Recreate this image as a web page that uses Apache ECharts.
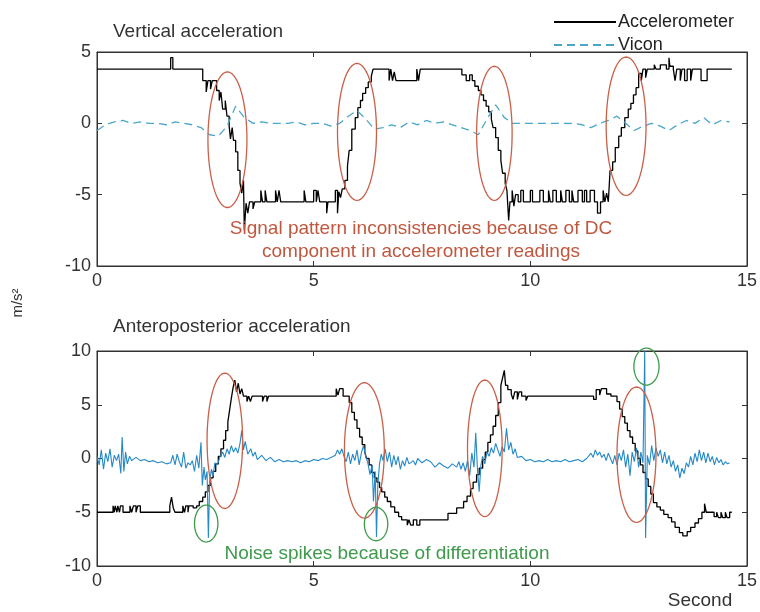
<!DOCTYPE html>
<html>
<head>
<meta charset="utf-8">
<title>Vertical and anteroposterior acceleration</title>
<script src="https://cdn.jsdelivr.net/npm/echarts@6.0.0/dist/echarts.min.js"></script>
<style>
  html, body { margin: 0; padding: 0; background: #fff; }
  #chart { width: 760px; height: 612px; }
</style>
</head>
<body>
<div id="chart"></div>
<script>
// x ticks (seconds) and y ticks of the two panels
var xTicks = [0, 5, 10, 15];
var yTicksTop = [-10, -5, 0, 5];
var yTicksBottom = [-10, -5, 0, 5, 10];

// vertical acceleration, accelerometer: [second, m/s2], value holds until next point
var accTop = [
  [0,3.8],[1.7,4.6],[1.75,3.8],[2.44,3.0],[2.52,2.2],[2.56,3.0],[2.62,2.4],[2.66,3.0],[2.76,2.3],
  [2.82,1.6],[2.86,2.2],[2.9,1.0],[2.96,1.6],[3.0,0.5],[3.05,-0.2],[3.08,-1.1],[3.12,-0.3],[3.15,-1.2],
  [3.2,-2.0],[3.25,-3.3],[3.3,-4.2],[3.34,-4.9],[3.38,-4.0],[3.4,-7.5],[3.44,-5.6],[3.48,-6.3],[3.52,-5.5],
  [3.6,-6.0],[3.64,-5.5],[3.78,-4.7],[3.82,-5.5],[3.88,-4.7],[3.92,-5.5],[4.12,-4.7],[4.16,-5.5],[4.2,-4.7],
  [4.24,-5.5],[4.78,-4.7],[4.82,-5.5],[5.0,-4.7],[5.06,-5.5],[5.1,-4.7],[5.14,-5.5],[5.3,-6.3],[5.33,-5.5],
  [5.5,-4.7],[5.55,-6.3],[5.58,-4.8],[5.62,-5.2],[5.66,-4.6],[5.72,-4.0],[5.78,-3.0],[5.82,-1.9],[5.88,-0.4],
  [5.96,0.4],[6.02,1.1],[6.08,1.6],[6.13,2.1],[6.2,2.5],[6.26,2.9],[6.33,3.3],[6.37,3.8],[6.74,3.0],
  [6.78,3.8],[6.82,3.0],[6.86,3.6],[6.9,3.0],[7.38,3.8],[7.42,3.0],[7.46,3.8],[8.42,3.4],[8.52,3.0],
  [8.6,3.4],[8.66,3.0],[8.72,2.6],[8.8,2.3],[8.86,2.0],[8.92,1.6],[8.98,1.2],[9.04,0.8],[9.1,0.3],
  [9.14,-0.3],[9.2,-1.0],[9.26,-1.9],[9.32,-2.6],[9.36,-3.5],[9.42,-4.2],[9.46,-4.7],[9.5,-6.8],[9.53,-5.5],
  [9.58,-4.7],[9.62,-5.8],[9.66,-5.0],[9.72,-5.5],[9.78,-4.7],[9.84,-5.5],[10.0,-4.7],[10.05,-5.5],[10.22,-4.7],
  [10.3,-5.5],[10.42,-4.7],[10.46,-5.5],[10.52,-4.7],[10.6,-5.5],[10.7,-4.7],[10.74,-5.5],[10.82,-4.7],[10.9,-5.5],
  [10.96,-4.7],[11.0,-5.5],[11.1,-4.7],[11.2,-5.5],[11.25,-4.7],[11.3,-5.5],[11.38,-4.7],[11.48,-5.5],[11.55,-6.3],
  [11.62,-5.5],[11.68,-4.7],[11.72,-5.5],[11.76,-4.9],[11.8,-5.5],[11.84,-3.3],[11.9,-2.7],[11.96,-1.7],[12.04,-0.9],
  [12.1,-0.3],[12.18,0.4],[12.26,1.0],[12.32,1.4],[12.38,2.0],[12.44,2.5],[12.5,3.5],[12.56,3.0],[12.6,3.8],
  [12.66,3.2],[12.7,3.8],[12.86,4.1],[12.9,3.8],[13.0,4.1],[13.14,3.8],[13.2,4.6],[13.22,4.0],[13.3,3.8],
  [13.34,3.0],[13.38,3.8],[13.46,3.0],[13.5,3.8],[13.56,3.0],[13.62,3.8],[13.7,3.0],[13.74,3.8],[13.94,3.0],
  [14.08,3.8],[14.65,3.8]
];

// vertical acceleration, Vicon: [second, m/s2]
var viconTop = [
  [0,-0.5],[0.2,-0.1],[0.4,0.1],[0.6,0.2],[0.8,0.0],[1.0,0.1],[1.2,0.0],[1.4,0.0],[1.6,-0.1],[1.8,0.1],
  [2.0,0.0],[2.2,-0.1],[2.4,-0.3],[2.6,-0.8],[2.8,-0.9],[3.0,-0.2],[3.2,1.2],[3.4,0.4],[3.6,0.0],[3.8,0.1],
  [4.0,0.0],[4.2,0.0],[4.4,0.0],[4.6,0.1],[4.8,-0.1],[5.0,0.0],[5.2,0.0],[5.4,-0.2],[5.6,0.0],[5.8,0.5],
  [6.0,0.9],[6.2,0.3],[6.4,-0.4],[6.6,-0.3],[6.8,-0.1],[7.0,-0.3],[7.2,0.1],[7.4,-0.1],[7.6,0.2],[7.8,0.0],
  [8.0,0.1],[8.2,-0.1],[8.4,-0.3],[8.6,-0.5],[8.8,-0.8],[9.0,0.3],[9.2,1.3],[9.4,0.4],[9.6,0.0],[9.8,0.0],
  [10.0,0.0],[10.2,0.0],[10.4,0.0],[10.6,0.0],[10.8,0.0],[11.0,0.0],[11.2,-0.1],[11.4,-0.3],[11.6,0.0],[11.8,0.2],
  [12.0,0.5],[12.2,0.0],[12.4,-0.5],[12.6,-0.2],[12.8,0.0],[13.0,-0.2],[13.2,-0.5],[13.4,-0.1],[13.6,0.2],[13.8,0.0],
  [14.0,0.4],[14.2,-0.1],[14.4,0.2],[14.6,0.1]
];

// anteroposterior acceleration, accelerometer
var accBottom = [
  [0,-5.0],[0.37,-4.4],[0.4,-5.0],[0.42,-4.4],[0.46,-5.0],[0.48,-4.4],[0.52,-5.0],[0.54,-4.4],[0.6,-5.0],
  [0.76,-4.4],[0.8,-5.0],[0.84,-4.4],[0.9,-5.0],[0.94,-4.4],[1.0,-5.0],[1.68,-4.4],[1.72,-3.6],[1.76,-4.6],
  [1.8,-5.0],[1.98,-4.4],[2.02,-5.0],[2.05,-4.4],[2.1,-5.0],[2.12,-4.4],[2.22,-4.6],[2.3,-4.4],[2.36,-4.0],
  [2.44,-3.6],[2.5,-3.1],[2.56,-2.5],[2.62,-1.8],[2.68,-1.2],[2.74,-0.5],[2.8,0.2],[2.86,0.9],[2.92,1.7],
  [2.97,2.6],[3.02,3.4],[3.06,4.5],[3.1,5.6],[3.14,6.6],[3.18,7.3],[3.22,6.2],[3.26,7.0],[3.3,6.0],
  [3.34,6.5],[3.38,5.8],[3.46,5.3],[3.5,5.8],[3.54,5.3],[3.58,5.8],[3.82,5.3],[3.86,5.8],[3.92,5.3],
  [3.96,5.8],[5.52,6.5],[5.56,5.9],[5.6,6.5],[5.68,5.8],[5.82,5.2],[5.88,4.3],[5.94,3.6],[6.0,2.8],
  [6.06,2.0],[6.12,1.3],[6.18,0.6],[6.22,0.0],[6.28,-0.6],[6.34,-1.3],[6.4,-1.8],[6.46,-2.2],[6.52,-2.7],
  [6.57,-3.1],[6.64,-3.6],[6.7,-4.0],[6.78,-4.5],[6.87,-5.0],[6.96,-5.4],[7.03,-5.7],[7.16,-6.2],[7.2,-5.7],
  [7.24,-6.2],[7.3,-5.7],[7.38,-6.2],[7.45,-5.7],[8.1,-5.1],[8.3,-4.6],[8.46,-4.0],[8.54,-3.5],[8.62,-2.8],
  [8.68,-2.2],[8.76,-1.5],[8.82,-0.9],[8.9,-0.1],[8.96,0.6],[9.02,1.5],[9.08,2.2],[9.14,3.0],[9.2,4.0],
  [9.26,5.2],[9.32,6.8],[9.36,7.5],[9.4,8.2],[9.43,6.8],[9.48,6.4],[9.56,6.0],[9.6,5.5],[9.64,6.2],
  [9.7,5.5],[9.74,6.2],[9.8,5.8],[9.9,5.4],[9.94,5.8],[11.46,5.5],[11.52,6.4],[11.6,5.9],[11.64,6.5],
  [11.76,6.0],[11.86,5.8],[12.0,5.3],[12.06,4.6],[12.12,3.9],[12.18,3.3],[12.24,2.6],[12.3,2.0],[12.36,1.4],
  [12.42,0.7],[12.48,0.0],[12.54,-0.6],[12.6,-1.3],[12.66,-1.9],[12.72,-2.6],[12.78,-3.3],[12.84,-4.1],[12.92,-4.5],
  [13.0,-4.8],[13.08,-5.2],[13.18,-5.5],[13.26,-5.9],[13.34,-6.4],[13.44,-6.9],[13.52,-7.2],[13.62,-6.8],[13.7,-6.4],
  [13.8,-6.0],[13.88,-5.6],[13.96,-5.0],[14.02,-4.2],[14.06,-5.0],[14.24,-5.4],[14.3,-5.0],[14.34,-5.5],[14.4,-5.0],
  [14.44,-5.5],[14.5,-5.0],[14.54,-5.5],[14.6,-5.0],[14.65,-5.0]
];

// anteroposterior acceleration, Vicon
var viconBottom = [
  [0,0.2],[0.05,-0.6],[0.1,0.8],[0.15,-1.0],[0.2,0.5],[0.25,-0.3],[0.3,0.9],[0.35,-0.8],[0.4,0.3],[0.45,-0.2],
  [0.5,0.4],[0.55,-1.4],[0.58,2.0],[0.62,-1.2],[0.66,0.6],[0.7,-0.5],[0.75,0.2],[0.8,-0.2],[0.9,0.1],[1.0,-0.2],
  [1.1,-0.1],[1.2,-0.3],[1.3,-0.2],[1.4,-0.4],[1.5,-0.3],[1.6,-0.5],[1.7,-0.4],[1.75,0.3],[1.8,-0.6],[1.85,0.4],
  [1.9,-0.3],[1.95,-0.8],[2.0,0.6],[2.05,-0.9],[2.1,-0.4],[2.15,-0.6],[2.2,-0.2],[2.25,-1.2],[2.3,0.3],[2.35,-0.9],
  [2.4,1.5],[2.43,-2.5],[2.47,-0.8],[2.5,-2.0],[2.54,-1.2],[2.57,-7.4],[2.6,-2.2],[2.64,-1.0],[2.68,-1.6],[2.72,-0.4],
  [2.78,-0.6],[2.84,0.2],[2.9,0.6],[2.95,0.1],[3.0,0.9],[3.05,0.4],[3.1,1.2],[3.15,0.6],[3.2,1.0],[3.25,0.5],
  [3.3,1.4],[3.34,2.6],[3.38,0.8],[3.42,1.6],[3.48,0.4],[3.55,0.9],[3.6,0.2],[3.65,0.6],[3.7,-0.1],[3.8,0.3],
  [3.9,-0.2],[4.0,0.1],[4.1,-0.3],[4.2,-0.1],[4.3,-0.3],[4.4,-0.2],[4.5,-0.3],[4.6,-0.2],[4.7,-0.4],[4.8,-0.2],
  [4.9,-0.3],[5.0,-0.1],[5.1,-0.2],[5.2,0.0],[5.3,-0.1],[5.4,0.1],[5.5,0.3],[5.55,0.8],[5.6,0.4],[5.65,0.9],
  [5.7,0.2],[5.75,-0.3],[5.8,0.6],[5.85,-0.5],[5.9,0.4],[5.95,-0.2],[6.0,0.8],[6.05,-0.6],[6.1,0.5],[6.15,1.2],
  [6.2,0.2],[6.25,-0.4],[6.3,-1.5],[6.35,-0.6],[6.38,-4.0],[6.42,-1.2],[6.45,-7.3],[6.48,-2.5],[6.52,-0.5],[6.56,0.4],
  [6.6,-0.2],[6.65,0.9],[6.7,-0.3],[6.75,0.6],[6.8,-0.8],[6.85,0.3],[6.9,-0.6],[6.95,0.2],[7.0,-1.0],[7.05,-0.2],
  [7.1,-0.7],[7.15,0.1],[7.2,-0.5],[7.3,-0.2],[7.35,-0.6],[7.4,0.0],[7.5,-0.4],[7.6,-0.1],[7.7,-0.3],[7.8,-0.8],
  [7.9,-0.4],[8.0,-0.7],[8.1,-0.9],[8.2,-0.5],[8.3,-0.8],[8.35,-0.3],[8.4,-1.0],[8.45,-0.4],[8.5,-1.2],[8.55,-0.2],
  [8.6,-1.6],[8.65,0.5],[8.7,-0.8],[8.74,2.4],[8.78,-1.0],[8.82,-3.1],[8.86,-0.6],[8.9,0.2],[8.95,-0.5],[9.0,0.6],
  [9.05,0.2],[9.1,1.0],[9.15,0.5],[9.2,1.4],[9.25,0.8],[9.3,0.2],[9.35,1.1],[9.4,0.6],[9.45,2.8],[9.5,0.8],
  [9.55,1.5],[9.6,0.4],[9.65,0.9],[9.7,0.1],[9.8,0.2],[9.9,-0.2],[10.0,-0.1],[10.1,-0.3],[10.2,-0.2],[10.3,-0.3],
  [10.4,-0.1],[10.5,-0.3],[10.6,-0.2],[10.7,-0.3],[10.8,-0.1],[10.9,-0.3],[11.0,-0.2],[11.1,-0.1],[11.2,-0.3],[11.3,0.0],
  [11.4,0.5],[11.45,0.1],[11.5,0.8],[11.55,0.3],[11.6,0.6],[11.65,0.1],[11.7,0.4],[11.75,-0.2],[11.8,0.5],[11.85,0.0],
  [11.9,-0.5],[11.95,0.3],[12.0,-0.6],[12.05,0.5],[12.1,-0.2],[12.15,0.8],[12.2,-0.8],[12.25,0.4],[12.3,-1.6],[12.35,0.6],
  [12.4,-0.3],[12.45,1.0],[12.5,-0.8],[12.55,0.6],[12.6,-0.4],[12.64,10.0],[12.66,-7.4],[12.7,0.3],[12.75,-0.6],[12.8,1.2],
  [12.85,-0.2],[12.9,1.0],[12.95,0.2],[13.0,0.8],[13.05,-0.4],[13.1,0.6],[13.15,-0.5],[13.2,0.3],[13.25,-0.8],[13.3,-0.2],
  [13.35,-1.2],[13.4,-0.6],[13.45,-1.8],[13.5,-0.9],[13.55,-1.4],[13.6,-0.4],[13.65,-0.8],[13.7,0.2],[13.75,-0.6],[13.8,0.5],
  [13.85,-0.3],[13.9,0.8],[13.95,-0.2],[14.0,0.6],[14.05,-0.4],[14.1,0.5],[14.15,-0.3],[14.2,0.2],[14.25,-0.6],[14.3,0.1],
  [14.35,-0.4],[14.4,-0.1],[14.45,-0.6],[14.5,-0.3],[14.55,-0.5],[14.6,-0.4]
];

// hand-drawn ellipses: [centre second, centre value, half width (s), half height]
var redMarksTop = [[3.01,-1.15,0.45,4.75],[6.0,-0.6,0.45,4.8],[9.17,-0.7,0.41,4.7],[12.21,-0.2,0.46,4.85]];
var redMarksBottom = [[2.95,1.65,0.41,6.3],[6.17,0.75,0.46,6.3],[8.95,0.95,0.4,6.35],[12.45,0.35,0.45,6.3]];
var greenMarksBottom = [[2.52,-6.05,0.27,1.72],[6.44,-6.1,0.27,1.55],[12.68,8.55,0.29,1.72]];

var FONT = '"Liberation Sans", Arial, sans-serif';
var chart = echarts.init(document.getElementById('chart'));

function valueAxis(grid, ticks, pos, labels) {
  return {
    type: 'value', gridIndex: grid, position: pos,
    min: ticks[0], max: ticks[ticks.length - 1], interval: 5,
    axisLine: { show: true, onZero: false, lineStyle: { color: '#333', width: 1 } },
    axisTick: { show: true, inside: true, length: 5, lineStyle: { color: '#333' } },
    axisLabel: { show: labels, color: '#333', fontSize: 18, fontFamily: FONT, margin: 6 },
    splitLine: { show: false }
  };
}

function ellipseSeries(data, color, xi, yi) {
  return {
    type: 'custom', xAxisIndex: xi, yAxisIndex: yi, data: data, silent: true, z: 5,
    renderItem: function (params, api) {
      var cx = api.value(0), cy = api.value(1), rx = api.value(2), ry = api.value(3);
      var pts = [];
      for (var k = 0; k <= 72; k++) {
        var a = k / 72 * Math.PI * 2;
        pts.push(api.coord([cx + rx * Math.cos(a), cy + ry * Math.sin(a)]));
      }
      return { type: 'polyline', shape: { points: pts },
        style: { stroke: color, fill: null, lineWidth: 1.3 } };
    }
  };
}

var option = {
  animation: false,
  backgroundColor: '#fff',
  textStyle: { fontFamily: FONT },
  grid: [
    { left: 97, top: 52, width: 651, height: 214, show: true, borderColor: '#333', borderWidth: 1 },
    { left: 97, top: 351, width: 651, height: 215, show: true, borderColor: '#333', borderWidth: 1 }
  ],
  title: [
    { text: 'Vertical acceleration', left: 108, top: 17,
      textStyle: { fontSize: 19, fontWeight: 'normal', color: '#333', fontFamily: FONT } },
    { text: 'Anteroposterior acceleration', left: 108, top: 312,
      textStyle: { fontSize: 19, fontWeight: 'normal', color: '#333', fontFamily: FONT } }
  ],
  legend: {
    data: ['Accelerometer', 'Vicon'],
    orient: 'vertical', left: 548, top: 8, itemWidth: 62, itemHeight: 14, itemGap: 5,
    itemStyle: { opacity: 0 },
    textStyle: { fontSize: 18, color: '#222', fontFamily: FONT, padding: [0, 0, 0, -3] },
    selectedMode: false
  },
  xAxis: [
    valueAxis(0, xTicks, 'bottom', true),
    valueAxis(1, xTicks, 'bottom', true),
    valueAxis(0, xTicks, 'top', false),
    valueAxis(1, xTicks, 'top', false)
  ],
  yAxis: [
    valueAxis(0, yTicksTop, 'left', true),
    valueAxis(1, yTicksBottom, 'left', true),
    valueAxis(0, yTicksTop, 'right', false),
    valueAxis(1, yTicksBottom, 'right', false)
  ],
  series: [
    { name: 'Accelerometer', type: 'line', xAxisIndex: 0, yAxisIndex: 0, data: accTop, step: 'end',
      symbol: 'none', color: '#000', lineStyle: { color: '#000', width: 1.3 } },
    { name: 'Vicon', type: 'line', xAxisIndex: 0, yAxisIndex: 0, data: viconTop,
      symbol: 'none', color: '#4aa6c8', lineStyle: { color: '#4aa6c8', width: 1.3, type: [8, 5] } },
    { name: 'Accelerometer', type: 'line', xAxisIndex: 1, yAxisIndex: 1, data: accBottom, step: 'end',
      symbol: 'none', color: '#000', lineStyle: { color: '#000', width: 1.3 } },
    { name: 'Vicon', type: 'line', xAxisIndex: 1, yAxisIndex: 1, data: viconBottom,
      symbol: 'none', color: '#2489c6', lineStyle: { color: '#2489c6', width: 1.1 } },
    ellipseSeries(redMarksTop, '#c8604a', 0, 0),
    ellipseSeries(redMarksBottom, '#c8604a', 1, 1),
    ellipseSeries(greenMarksBottom, '#3f9a4c', 1, 1)
  ],
  graphic: [
    { type: 'text', x: 421, y: 229, z: 10, style: { text: 'Signal pattern inconsistencies because of DC',
      font: '19px ' + FONT, fill: '#c0583f', align: 'center', verticalAlign: 'middle',
      textAlign: 'center', textVerticalAlign: 'middle' } },
    { type: 'text', x: 421, y: 252, z: 10, style: { text: 'component in accelerometer readings',
      font: '19px ' + FONT, fill: '#c0583f', align: 'center', verticalAlign: 'middle',
      textAlign: 'center', textVerticalAlign: 'middle' } },
    { type: 'text', x: 387, y: 554, z: 10, style: { text: 'Noise spikes because of differentiation',
      font: '19px ' + FONT, fill: '#3f9a4c', align: 'center', verticalAlign: 'middle',
      textAlign: 'center', textVerticalAlign: 'middle' } },
    { type: 'text', x: 700, y: 601, style: { text: 'Second',
      font: '19px ' + FONT, fill: '#333', align: 'center', verticalAlign: 'middle',
      textAlign: 'center', textVerticalAlign: 'middle' } },
    { type: 'text', x: 18, y: 303, rotation: Math.PI / 2, style: { text: 'm/s²',
      font: '15px ' + FONT, fill: '#333', align: 'center', verticalAlign: 'middle',
      textAlign: 'center', textVerticalAlign: 'middle' } }
  ]
};

chart.setOption(option);
</script>
</body>
</html>
